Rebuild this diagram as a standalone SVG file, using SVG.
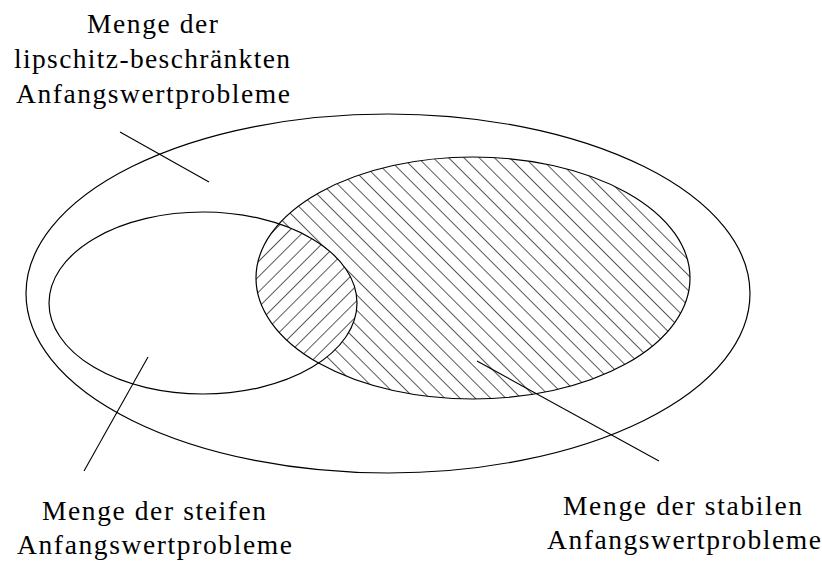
<svg xmlns="http://www.w3.org/2000/svg" width="822" height="563" viewBox="0 0 822 563">
  <style>
    .set { fill: none; stroke: #000; stroke-width: 1.2; }
    .pointer { stroke: #000; stroke-width: 1.1; fill: none; }
    .label { font-family: "Liberation Serif", "DejaVu Serif", serif; font-size: 27.5px; fill: #000; }
  </style>
  <defs>
    <pattern id="hatchBack" patternUnits="userSpaceOnUse" width="10.8" height="10.8" patternTransform="rotate(-45)">
      <line x1="0" y1="-1" x2="0" y2="11.8" stroke="#000" stroke-width="1.3"/>
    </pattern>
    <pattern id="hatchFwd" patternUnits="userSpaceOnUse" width="10.8" height="10.8" patternTransform="rotate(45)">
      <line x1="0" y1="-1" x2="0" y2="11.8" stroke="#000" stroke-width="1.3"/>
    </pattern>
    <clipPath id="clipStable">
      <ellipse cx="473" cy="278" rx="217" ry="121"/>
    </clipPath>
  </defs>

  <g id="lipschitz-set">
    <ellipse class="set" cx="388" cy="293.5" rx="362" ry="179.5"/>
    <text class="label" x="87" y="33" textLength="131" lengthAdjust="spacing">Menge der</text>
    <text class="label" x="14" y="68" textLength="276" lengthAdjust="spacing">lipschitz-beschränkten</text>
    <text class="label" x="16" y="103" textLength="274" lengthAdjust="spacing">Anfangswertprobleme</text>
  </g>

  <g id="stable-set">
    <ellipse cx="473" cy="278" rx="217" ry="121" fill="url(#hatchBack)" stroke="none"/>
    <text class="label" x="563" y="515" textLength="239" lengthAdjust="spacing">Menge der stabilen</text>
    <text class="label" x="547" y="549" textLength="274" lengthAdjust="spacing">Anfangswertprobleme</text>
  </g>

  <g id="intersection">
    <g clip-path="url(#clipStable)">
      <ellipse cx="203" cy="303" rx="154" ry="91" fill="#fff" stroke="none"/>
      <ellipse cx="203" cy="303" rx="154" ry="91" fill="url(#hatchFwd)" stroke="none"/>
    </g>
  </g>

  <g id="stiff-set">
    <ellipse class="set" cx="203" cy="303" rx="154" ry="91"/>
    <text class="label" x="42" y="520" textLength="224" lengthAdjust="spacing">Menge der steifen</text>
    <text class="label" x="17" y="554" textLength="275" lengthAdjust="spacing">Anfangswertprobleme</text>
  </g>

  <g id="stable-outline">
    <ellipse class="set" cx="473" cy="278" rx="217" ry="121"/>
  </g>

  <g id="connectors">
    <line class="pointer" x1="120" y1="132" x2="209" y2="182"/>
    <line class="pointer" x1="148" y1="357" x2="84" y2="471"/>
    <line class="pointer" x1="477" y1="361" x2="659" y2="461"/>
  </g>
</svg>
